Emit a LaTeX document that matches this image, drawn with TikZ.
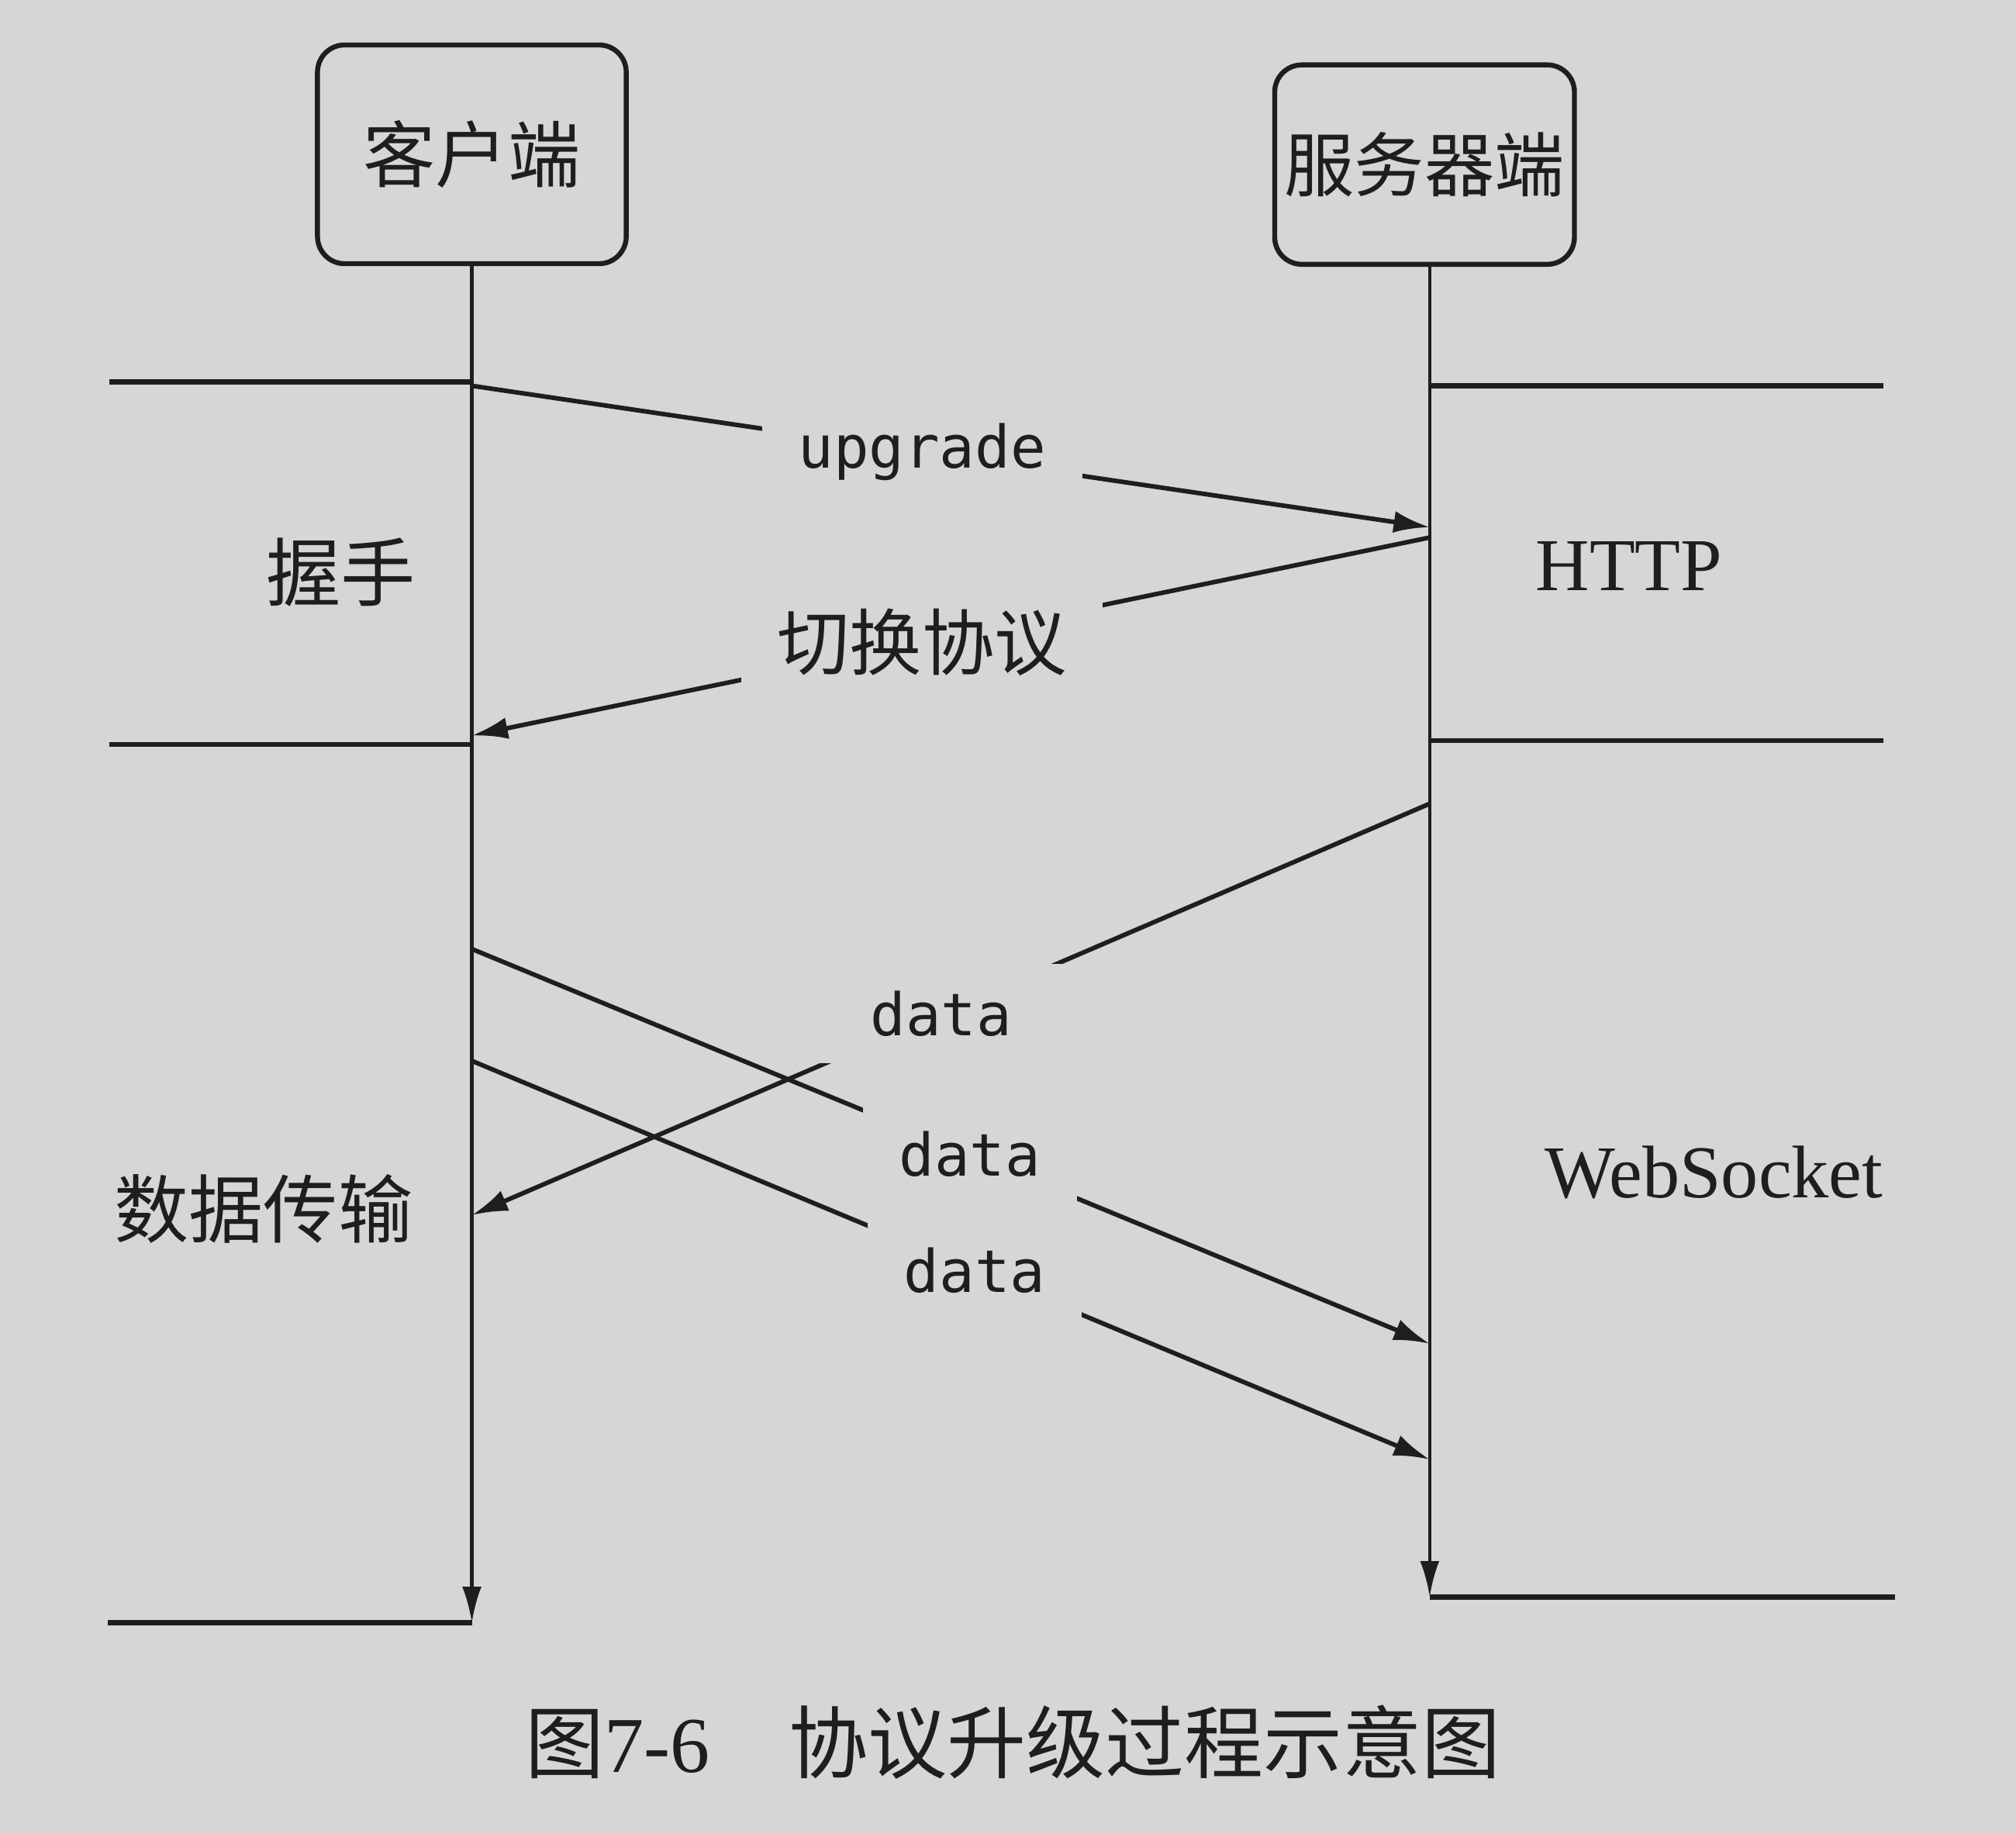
\documentclass[tikz,border=0pt]{standalone}
\usepackage{fontspec}
\setmainfont{Liberation Serif}
\newfontfamily\cjk{Noto Sans CJK SC}
\newfontfamily\codefont{DejaVu Sans Mono}
\usetikzlibrary{arrows.meta,calc,positioning}
\definecolor{Paper}{HTML}{D6D6D4}
\definecolor{Ink}{HTML}{1E1E1E}

\begin{document}
\begin{tikzpicture}[x=0.01cm,y=-0.01cm,
  party/.style={draw=Ink,line width=1.1pt,rounded corners=6pt,inner xsep=2pt,text=Ink,font=\cjk\fontsize{16}{18}\selectfont},
  life/.style={draw=Ink,line width=0.8pt,-{Latex[length=2.8mm,width=1.5mm]}},
  phase/.style={draw=Ink,line width=1.1pt},
  msg/.style={draw=Ink,line width=1pt,-{Latex[length=2.8mm,width=1.7mm]}},
  tag/.style={fill=Paper,text=Ink,inner xsep=8pt,inner ysep=6pt,font=\codefont\fontsize{13}{15}\selectfont},
  ctag/.style={tag,font=\cjk\fontsize{16}{18}\selectfont},
  side/.style={text=Ink,font=\fontsize{16.5}{18}\selectfont},
  cside/.style={text=Ink,font=\cjk\fontsize{16.5}{18}\selectfont}]
\fill[Paper] (0,0) rectangle (1568,1426);
\node[party,minimum width=2.4cm,minimum height=1.7cm] (cli) at (367,120) {客户端};
\node[party,minimum width=2.33cm,minimum height=1.55cm,font=\cjk\fontsize{15.5}{18}\selectfont] (srv) at (1108,128) {服务器端};
\coordinate (cEnd) at (367,1262);
\coordinate (sEnd) at (1112,1242);
\draw[life] (cli.south) -- (cEnd);
\draw[life] (srv.south -| sEnd) -- (sEnd);
\foreach \y in {297,579} \draw[phase] (85,\y) -- (367,\y);
\foreach \y in {300,576} \draw[phase] (1112,\y) -- (1465,\y);
\draw[phase] (cEnd) -- (84,1262);
\draw[phase] (sEnd) -- (1474,1242);
\coordinate (c1) at (367,300);  \coordinate (s1) at (1112,410);
\coordinate (s2) at (1112,418); \coordinate (c2) at (367,572);
\coordinate (s3) at (1112,625); \coordinate (c3) at (367,945);
\coordinate (c4) at (367,738);  \coordinate (s4) at (1112,1045);
\coordinate (c5) at (367,825);  \coordinate (s5) at (1112,1135);
\draw[msg] (c1) -- node[tag,pos=0.47] (up) {upgrade} (s1);
\draw[msg] (s2) -- node[ctag,pos=0.53] (sw) {切换协议} (c2);
\draw[msg] (s3) -- node[tag,pos=0.51,inner xsep=14pt] (d0) {data} (c3);
\draw[msg] (c4) -- node[tag,pos=0.52] (d1) {data} (s4);
\draw[msg] (c5) -- node[tag,pos=0.525] (d2) {data} (s5);
\node[cside] (hs) at (265,445) {握手};
\node[side] (http) at (1267,440) {HTTP};
\node[cside] (dt) at (205,940) {数据传输};
\node[side] (ws) at (1333,912) {WebSocket};
\node[text=Ink,font=\fontsize{17.5}{20}\selectfont] (cap) at (788,1355) {{\cjk 图}7-6\quad{\cjk 协议升级过程示意图}};
\end{tikzpicture}
\end{document}
